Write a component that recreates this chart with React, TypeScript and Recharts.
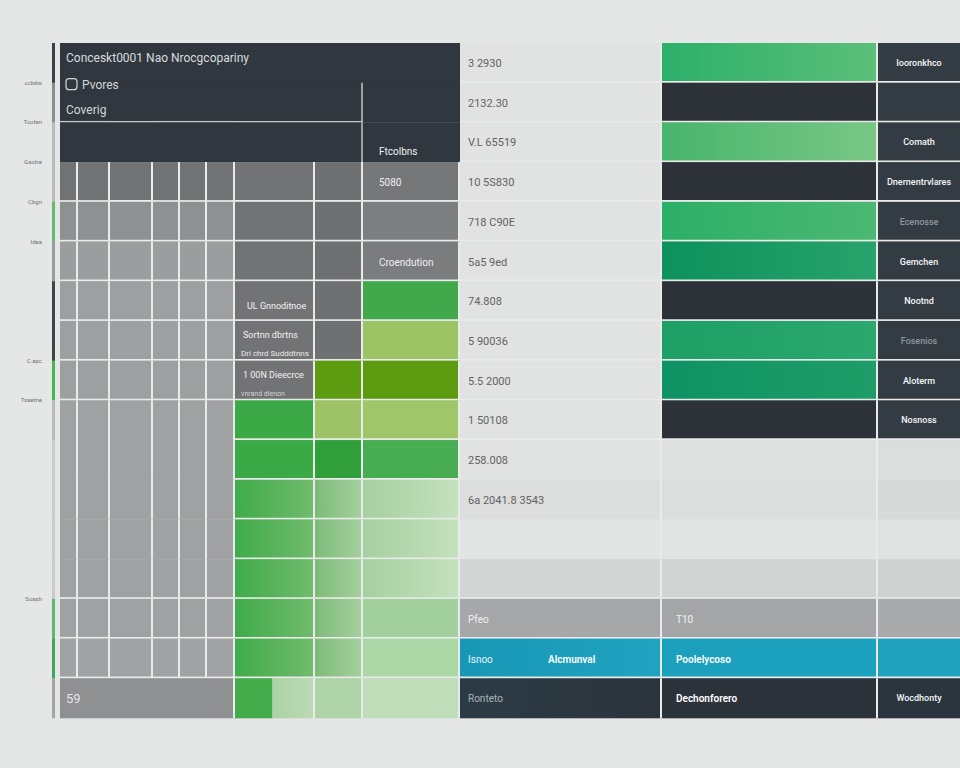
import React from 'react';
import { BarChart, Bar, XAxis, YAxis } from 'recharts';

// rows of the board, top to bottom
const rows = ['R1', 'R2', 'R3', 'R4', 'R5', 'R6', 'R7', 'R8', 'R9', 'R10', 'R11', 'R12', 'R13', 'R14', 'R15', 'R16', 'R17'];

// tiny notes next to the left axis (at the top edge of a row)
const axisNotes = ['', 'ccbdw', 'Tooten', 'Gaotre', 'Cbgn', 'Idea', '', '', 'C.apc', 'Tsaetne', '', '', '', '', 'Soash', '', ''];

// stacked segments of every row, left to right, and their share of the width
const columns = ['mark', 'gap', 'g1', 'g2', 'g3', 'g4', 'g5', 'g6', 'c2', 'c3', 'c4', 'amount', 'bar', 'tag'];
const columnShare = [3, 5, 18, 32, 43, 27, 27, 28, 80, 48, 97, 202, 216, 82];

const headerNotes = [
  ['Conceskt0001 Nao Nrocgcopariny'], ['Pvores', 'Coverig'], [], [], [], [], [], [], [], [], [], [], [], [], [], [], ['59'],
];
const sideNotes = [
  [], [], [], [], [], [], ['UL Gnnoditnoe'], ['Sortnn dbrtns', 'Dri chrd Sudddtnns'], ['1 00N Dieecrce', 'vnrand dienon'],
  [], [], [], [], [], [], [], [],
];
const blockNotes = ['', '', 'Ftcolbns', '5080', '', 'Croendution', '', '', '', '', '', '', '', '', '', '', ''];
const amounts = ['3 2930', '2132.30', 'V.L 65519', '10 5S830', '718 C90E', '5a5 9ed', '74.808', '5 90036', '5.5 2000', '1 50108', '258.008', '6a 2041.8 3543', '', '', 'Pfeo', 'Isnoo', 'Ronteto'];
const amountAside = ['', '', '', '', '', '', '', '', '', '', '', '', '', '', '', 'Alcmunval', ''];
const barNotes = ['', '', '', '', '', '', '', '', '', '', '', '', '', '', 'T10', 'Poolelycoso', 'Dechonforero'];
const tags = ['Iooronkhco', '', 'Comath', 'Dnernentrvlares', 'Ecenosse', 'Gemchen', 'Nootnd', 'Fosenios', 'Aloterm', 'Nosnoss', '', '', '', '', '', '', 'Wocdhonty'];

const data = rows.map((row, idx) => {
  const d: any = { row, idx };
  columns.forEach((c, i) => { d[c] = columnShare[i]; });
  return d;
});
const total = columnShare.reduce((a, b) => a + b, 0);

// ---- styles ----
const DARK = '#30373e';
const LINE = '#e9eaea';
const TITLE_LINE = '#c3c7ca';
const FONT = 'Roboto, "Noto Sans", sans-serif';
const TOP = 43;
const BOTTOM = 50;
const bandHalf = (768 - TOP - BOTTOM) / rows.length / 2;

const TONE: Record<string, string[]> = {
  mark: ['#3b4045', '#8b8f91', '#b9bcbd', '#b9bcbd', '#66b96d', '#9a9d9f', '#3f4449', '#3f4449', '#46b556', '#b9bcbd', '#c9cccc', '#c9cccc', '#c9cccc', '#c9cccc', '#5dbb6c', '#3fa55a', '#a3a6a7'],
  grey: [DARK, DARK, DARK, '#717274', '#8f9092', '#9c9d9e', '#9e9fa0', '#9e9fa0', '#9e9fa0', '#a0a1a2', '#a0a1a2', '#a0a1a2', '#a0a1a2', '#a0a1a2', '#a0a1a2', '#a1a2a3', '#8f9091'],
  c2: [DARK, DARK, DARK, '#727375', '#727375', '#727375', '#727375', '#727375', '#727375', '#3ba946', '#3ba946', 'url(#gC2)', 'url(#gC2)', 'url(#gC2)', 'url(#gC2)', 'url(#gC2)', 'url(#gC2end)'],
  c3: [DARK, DARK, DARK, '#6f7072', '#6f7072', '#6f7072', '#6f7072', '#6f7072', '#5d9b11', '#9ec367', '#32a03a', 'url(#gC3)', 'url(#gC3)', 'url(#gC3)', 'url(#gC3)', 'url(#gC3)', '#add3a6'],
  c4: [DARK, DARK, DARK, '#767779', '#7d7e80', '#7b7c7e', '#41a94c', '#9cc465', '#5c9a10', '#a0c66a', '#48ad52', 'url(#gC4)', 'url(#gC4)', 'url(#gC4)', '#a2d09c', '#acd7a6', '#bfddb8'],
  amount: ['#e1e2e2', '#e1e2e2', '#e1e2e2', '#e1e2e2', '#e1e2e2', '#e1e2e2', '#e1e2e2', '#e1e2e2', '#e1e2e2', '#e1e2e2', '#e1e2e2', '#dcdddd', '#e3e4e4', '#d3d4d4', '#a6a7a8', 'url(#gTeal)', 'url(#gNight)'],
  bar: ['url(#gB0)', '#2c3238', 'url(#gB2)', '#2c3238', 'url(#gB4)', 'url(#gB5)', '#2c3238', 'url(#gB7)', 'url(#gB8)', '#2c3238', '#dedfdf', '#dcdddd', '#e2e3e3', '#d2d3d3', '#a4a5a6', '#1ba0bd', '#2c3239'],
  tag: ['#343c43', '#343c43', '#343c43', '#343c43', '#343c43', '#343c43', '#343c43', '#343c43', '#343c43', '#343c43', '#dcdddd', '#d8d9d9', '#e0e1e1', '#d0d1d1', '#a9aaab', '#21a3c0', '#2b353d'],
};

const GREY_COLS = ['g1', 'g2', 'g3', 'g4', 'g5', 'g6'];

function fillFor(r: number, col: string): string {
  if (col === 'gap') return 'none';
  if (GREY_COLS.includes(col)) return TONE.grey[r];
  return TONE[col][r];
}

function edgesFor(r: number, col: string): { right: string | null; bottom: string | null } {
  if (col === 'mark' || col === 'gap') return { right: null, bottom: null };
  if (GREY_COLS.includes(col)) {
    const right = r >= 3 && (r < 16 || col === 'g6') ? LINE : null;
    const bottom = r === 1 ? TITLE_LINE : (r >= 3 && r <= 8) || (r >= 13 && r <= 15) ? LINE : null;
    return { right, bottom };
  }
  if (col === 'c2') return { right: r >= 3 ? LINE : null, bottom: r === 1 ? TITLE_LINE : r >= 3 && r < 16 ? LINE : null };
  if (col === 'c3') return { right: r >= 3 ? LINE : r === 1 || r === 2 ? TITLE_LINE : null, bottom: r === 1 ? TITLE_LINE : r >= 3 && r < 16 ? LINE : null };
  if (col === 'c4') return { right: r >= 3 ? LINE : null, bottom: r >= 3 && r < 16 ? LINE : null };
  const open = r >= 10 && r <= 12;
  const bottom = !open && r < 16 ? LINE : null;
  if (col === 'tag') return { right: null, bottom };
  return { right: LINE, bottom };
}

const rowOf = (p: any): number => p.payload?.idx ?? p.idx ?? p.index ?? 0;

const Segment = (p: any) => {
  const { x, y, width, height, col } = p;
  const r = rowOf(p);
  const fill = fillFor(r, col);
  const e = edgesFor(r, col);
  return (
    <g>
      <rect x={x} y={y} width={width} height={height} fill={fill} />
      {e.right && <line x1={x + width - 1} x2={x + width - 1} y1={y} y2={y + height} stroke={e.right} strokeWidth={e.right === TITLE_LINE ? 1.5 : 2} />}
      {e.bottom && <line x1={x} x2={x + width} y1={y + height - 1} y2={y + height - 1} stroke={e.bottom} strokeWidth={e.bottom === TITLE_LINE ? 1.5 : 2} />}
    </g>
  );
};

const SegmentText = (p: any) => {
  const { x, y, width, height, col } = p;
  const r = rowOf(p);
  const mid = y + height / 2;
  if (col === 'g1') {
    const lines = headerNotes[r];
    if (!lines.length) return <g />;
    if (r === 0) return <text x={x + 6} y={mid - 1} fontSize={12} fill="#d9dcdf" fontFamily={FONT}>{lines[0]}</text>;
    if (r === 1) {
      return (
        <g fontFamily={FONT} fontSize={12} fill="#d3d6d9">
          <rect x={x + 6} y={y - 4} width={11} height={11} rx={3} fill="none" stroke="#d3d6d9" strokeWidth={1.2} />
          <text x={x + 22} y={y + 6}>{lines[0]}</text>
          <text x={x + 6} y={y + 31}>{lines[1]}</text>
        </g>
      );
    }
    return <text x={x + 6} y={mid + 5} fontSize={13} fill="#e6e6e6" fontFamily={FONT}>{lines[0]}</text>;
  }
  if (col === 'c2') {
    const lines = sideNotes[r];
    if (!lines.length) return <g />;
    if (lines.length === 1) return <text x={x + 12} y={mid + 8} fontSize={9} fill="#f2f2f2" fontFamily={FONT}>{lines[0]}</text>;
    return (
      <g fontFamily={FONT}>
        <text x={x + 8} y={mid - 3} fontSize={9} fill="#f2f2f2">{lines[0]}</text>
        <text x={x + 6} y={mid + 15} fontSize={r === 8 ? 7 : 8} fill={r === 8 ? '#d2d2d2' : '#ececec'}>{lines[1]}</text>
      </g>
    );
  }
  if (col === 'c4') {
    const t = blockNotes[r];
    if (!t) return <g />;
    return <text x={x + 16} y={r < 3 ? y + height - 7 : mid + 4} fontSize={10} fill="#eef0f2" fontFamily={FONT}>{t}</text>;
  }
  if (col === 'amount') {
    const t = amounts[r];
    const fill = r === 14 ? '#f0f0f0' : r === 15 ? '#e8f6fa' : r === 16 ? '#aab4ba' : '#616263';
    return (
      <g fontFamily={FONT}>
        {t && <text x={x + 8} y={mid + 4} fontSize={r >= 14 ? 10 : 11} fill={fill}>{t}</text>}
        {amountAside[r] && <text x={x + 88} y={mid + 4} fontSize={10} fontWeight={600} fill="#ffffff">{amountAside[r]}</text>}
      </g>
    );
  }
  if (col === 'bar') {
    const t = barNotes[r];
    if (!t) return <g />;
    return <text x={x + 14} y={mid + 4} fontSize={10} fontWeight={r === 14 ? 400 : 600} fill={r === 14 ? '#f2f2f2' : '#ffffff'} fontFamily={FONT}>{t}</text>;
  }
  if (col === 'tag') {
    const t = tags[r];
    if (!t) return <g />;
    const faint = r === 4 || r === 7;
    return <text x={x + width / 2} y={mid + 3} textAnchor="middle" fontSize={9} fontWeight={500} fill={faint ? '#8e979e' : '#f4f6f7'} fontFamily={FONT}>{t}</text>;
  }
  return <g />;
};

const AxisNote = (p: any) => {
  const note = axisNotes[p.index ?? p.payload?.index ?? 0];
  if (!note) return <g />;
  return (
    <text x={p.x - 2} y={p.y - bandHalf + 2} textAnchor="end" fontSize={6} fill="#6f7374" fontFamily={FONT}>{note}</text>
  );
};

const Gradients = () => (
  <svg width={0} height={0} style={{ position: 'absolute' }}>
    <defs>
      <linearGradient id="gB0" x1="0" x2="1" y1="0" y2="0"><stop offset="0" stopColor="#2db06a" /><stop offset="1" stopColor="#5bbf79" /></linearGradient>
      <linearGradient id="gB2" x1="0" x2="1" y1="0" y2="0"><stop offset="0" stopColor="#48b56c" /><stop offset="1" stopColor="#78c785" /></linearGradient>
      <linearGradient id="gB4" x1="0" x2="1" y1="0" y2="0"><stop offset="0" stopColor="#2caf67" /><stop offset="1" stopColor="#4cb873" /></linearGradient>
      <linearGradient id="gB5" x1="0" x2="1" y1="0" y2="0"><stop offset="0" stopColor="#0d915d" /><stop offset="1" stopColor="#28a36b" /></linearGradient>
      <linearGradient id="gB7" x1="0" x2="1" y1="0" y2="0"><stop offset="0" stopColor="#1d9f66" /><stop offset="1" stopColor="#2ba86e" /></linearGradient>
      <linearGradient id="gB8" x1="0" x2="1" y1="0" y2="0"><stop offset="0" stopColor="#0f9264" /><stop offset="1" stopColor="#1e9d68" /></linearGradient>
      <linearGradient id="gC2" x1="0" x2="1" y1="0" y2="0"><stop offset="0" stopColor="#3fab49" /><stop offset="1" stopColor="#72bb6e" /></linearGradient>
      <linearGradient id="gC2end" x1="0" x2="1" y1="0" y2="0"><stop offset="0" stopColor="#43ab49" /><stop offset="0.46" stopColor="#43ab49" /><stop offset="0.47" stopColor="#acd2a6" /><stop offset="1" stopColor="#bddbb6" /></linearGradient>
      <linearGradient id="gC3" x1="0" x2="1" y1="0" y2="0"><stop offset="0" stopColor="#7dbb79" /><stop offset="1" stopColor="#a6d0a0" /></linearGradient>
      <linearGradient id="gC4" x1="0" x2="1" y1="0" y2="0"><stop offset="0" stopColor="#a5d09f" /><stop offset="1" stopColor="#c5e1bf" /></linearGradient>
      <linearGradient id="gTeal" x1="0" x2="1" y1="0" y2="0"><stop offset="0" stopColor="#1896b6" /><stop offset="1" stopColor="#1fa4c1" /></linearGradient>
      <linearGradient id="gNight" x1="0" x2="1" y1="0" y2="0"><stop offset="0" stopColor="#2b3b45" /><stop offset="1" stopColor="#2c343b" /></linearGradient>
    </defs>
  </svg>
);

const chartProps = {
  width: 960,
  height: 768,
  data,
  layout: 'vertical' as const,
  margin: { top: TOP, right: 0, bottom: BOTTOM, left: 0 },
  barCategoryGap: 0,
  barGap: 0,
};

export default function App() {
  return (
    <div style={{ position: 'absolute', left: 0, top: 0, width: 960, height: 768, background: '#e5e6e6', overflow: 'hidden' }}>
      <Gradients />
      <div style={{ position: 'absolute', left: 0, top: 0 }}>
        <BarChart {...chartProps}>
          <XAxis type="number" domain={[0, total]} hide />
          <YAxis type="category" dataKey="row" width={52} axisLine={false} tickLine={false} interval={0} tick={(p: any) => <AxisNote {...p} />} />
          {columns.map((c) => (
            <Bar key={c} dataKey={c} stackId="board" isAnimationActive={false} shape={(p: any) => <Segment {...p} col={c} />} />
          ))}
        </BarChart>
      </div>
      <div style={{ position: 'absolute', left: 0, top: 0 }}>
        <BarChart {...chartProps}>
          <XAxis type="number" domain={[0, total]} hide />
          <YAxis type="category" dataKey="row" width={52} axisLine={false} tickLine={false} tick={false} />
          {columns.map((c) => (
            <Bar key={c} dataKey={c} stackId="board" isAnimationActive={false} shape={(p: any) => <SegmentText {...p} col={c} />} />
          ))}
        </BarChart>
      </div>
    </div>
  );
}
